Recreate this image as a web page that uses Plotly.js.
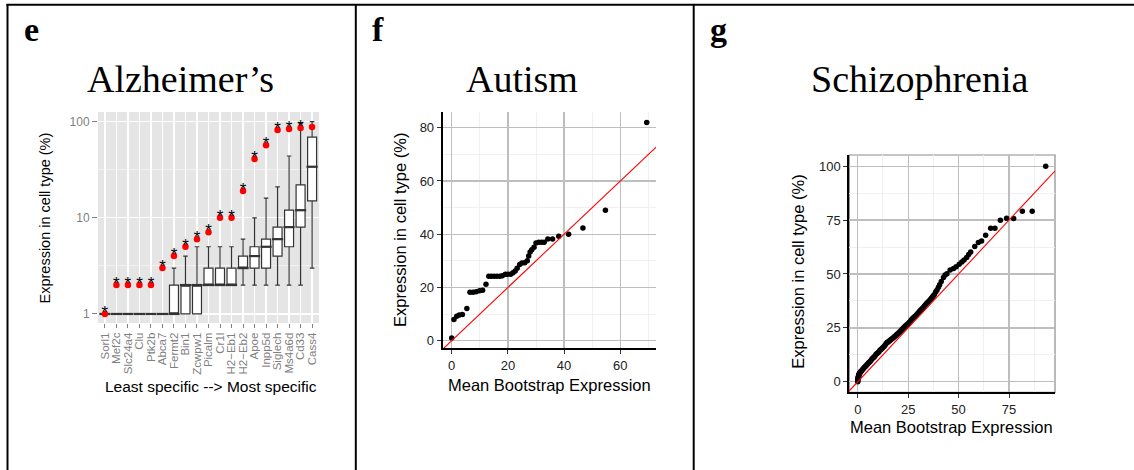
<!DOCTYPE html>
<html><head><meta charset="utf-8">
<script src="https://cdn.plot.ly/plotly-3.0.1.min.js"></script>
<style>html,body{margin:0;padding:0;background:#fff;} #chart{width:1134px;height:470px;}</style>
</head><body><div id="chart"></div>
<script>
// ---- Panel e: Alzheimer's ----
const genes = ['Sorl1','Mef2c','Slc24a4','Clu','Ptk2b','Abca7','Fermt2','Bin1','Zcwpw1','Picalm','Cr1l','H2\u2212Eb1','H2\u2212Eb2','Apoe','Inpp5d','Siglech','Ms4a6d','Cd33','Cass4'];
const observedPct = [1, 2, 2, 2, 2, 3, 4, 5, 6, 7.1, 10, 10, 19, 41, 57, 82, 84, 86, 88];
const signif = ['*','*','*','*','*','*','*','*','*','*','*','*','*','*','*','*','*','*',''];
const boxLower  = [1, 1, 1, 1, 1, 1, 1, 1, 1, 2, 2, 2, 2, 2, 2, 2, 2, 2, 3];
const boxQ1     = [1, 1, 1, 1, 1, 1, 1, 1, 1, 2, 2, 2, 3, 3, 3, 4, 5, 8, 15];
const boxMedian = [1, 1, 1, 1, 1, 1, 1, 2, 2, 2, 2, 2, 3, 4, 5, 6, 8, 12, 34];
const boxQ3     = [1, 1, 1, 1, 1, 1, 2, 2, 2, 3, 3, 3, 4, 5, 6, 8, 12, 22, 69];
const boxUpper  = [1, 1, 1, 1, 1, 1, 3, 4, 5, 5, 5, 5, 6, 10, 16, 21, 44, 96, 100];

// ---- Panel f: Autism ----
const autismBootstrap = [0, 0.8, 1.8, 2.7, 3.8, 5.4, 6.5, 7.6, 8.7, 9.9, 11.0, 12.2, 13.2, 14.1, 15.1, 16.1, 17.1, 18.0, 19.1, 20.0, 21.0, 21.8, 22.6, 23.3, 24.2, 25.0, 26.0, 26.9, 27.4, 27.9, 28.5, 29.3, 30.0, 31.0, 32.0, 32.9, 34.2, 35.9, 38.1, 41.6, 46.7, 54.7, 69.4];
const autismObserved  = [1, 8, 9.2, 9.7, 9.8, 12.1, 18.2, 18.2, 18.4, 18.8, 19, 21.2, 24.2, 24.2, 24.2, 24.2, 24.2, 24.4, 25, 25, 25, 25.5, 26.2, 27.2, 28.6, 29.2, 29.3, 30, 31.8, 33.3, 34.2, 35.1, 36.7, 37, 37, 37, 38.2, 38.2, 39.2, 40, 42.3, 49, 82];

// ---- Panel g: Schizophrenia ----
const sczBootstrap = [0, 0, 0, 0.1, 0.2, 0.3, 0.4, 0.5, 0.6, 0.7, 0.8, 1.0, 1.2, 1.4,
  1.6, 2.0, 2.4, 2.8, 3.2, 3.6, 4.0, 4.5, 5.0, 5.5, 6.0, 6.5, 7.0, 7.5, 8.0, 8.5, 9.0, 9.5, 10.0, 10.5, 11.0, 11.5, 12.0, 12.5, 13.0, 13.5, 14.0, 14.5, 15.0, 15.5, 16.0, 16.5, 17.0, 17.5, 18.0, 18.5, 19.0, 19.5, 20.0, 20.5, 21.0, 21.5, 22.0, 22.5, 23.0, 23.5, 24.0, 24.5, 25.0, 25.5, 26.0, 26.5, 27.0, 27.5, 28.0, 28.5, 29.0, 29.5, 30.0, 30.5, 31.0, 31.5, 32.0, 32.5, 33.0, 33.5, 34.0, 34.5, 35.0, 35.5, 36.0, 36.5, 37.0, 37.5, 38.0,
  38.6, 39.3, 40.0, 40.6, 41.4, 42.5, 43.3, 44.2, 45.8, 47.5, 48.8, 50.3, 51.6, 52.7, 54.0, 55.0, 56.0, 58.0, 59.8, 61.4, 63.4, 65.9, 68.0, 70.7, 73.8, 77.3, 81.6, 86.5, 93.2];
const sczObserved = [0, 0.5, 1, 1.5, 2.0, 2.3, 2.6, 3.0, 3.2, 3.5, 3.8, 4.0, 4.3, 4.6,
  4.8, 5.2, 5.7, 6.1, 6.6, 7.0, 7.3, 7.9, 8.4, 8.9, 9.3, 9.9, 10.5, 11.0, 11.4, 12.0, 12.6, 13.1, 13.4, 13.9, 14.6, 15.0, 15.4, 15.9, 16.4, 16.9, 17.6, 18.2, 18.4, 18.8, 19.2, 19.6, 20.0, 20.3, 20.7, 21.1, 21.6, 22.0, 22.4, 22.8, 23.3, 23.8, 24.3, 24.8, 25.3, 25.8, 26.2, 26.6, 27.0, 27.5, 28.0, 28.6, 29.1, 29.6, 30.0, 30.4, 30.9, 31.4, 31.9, 32.5, 33.0, 33.5, 34.0, 34.5, 35.0, 35.6, 36.2, 36.7, 37.1, 37.6, 38.1, 38.7, 39.3, 39.9, 40.5,
  41.6, 42.6, 43.8, 45.0, 46.5, 48.4, 49.5, 50.1, 51.9, 52.5, 53.4, 54.5, 55.6, 56.5, 57.7, 59.0, 60.2, 62.7, 64.6, 65.3, 68.0, 71.2, 71.2, 74.9, 75.8, 75.7, 79.1, 79.1, 100];

const identityLine = [-10, 200];

const W = 1134, H = 470;
const px = v => v / W;
const py = v => 1 - v / H;

const sans = 'Liberation Sans, Arial, sans-serif';
const serif = 'Liberation Serif, Times New Roman, serif';

const traces = [
  {type:'box', x: genes, q1: boxQ1, median: boxMedian, q3: boxQ3, lowerfence: boxLower, upperfence: boxUpper,
   xaxis:'x', yaxis:'y', width: 0.78, fillcolor:'#FFFFFF', line:{color:'#333333', width:1.2}, boxpoints:false, hoverinfo:'skip', showlegend:false},
  {type:'scatter', mode:'markers', x: genes, y: boxMedian, xaxis:'x', yaxis:'y',
   marker:{symbol:'line-ew', size:8, line:{color:'#333333', width:2.2}}, hoverinfo:'skip', showlegend:false},
  {type:'scatter', mode:'markers', x: genes, y: observedPct, xaxis:'x', yaxis:'y',
   marker:{color:'#FF0000', size:6.5}, cliponaxis:false, showlegend:false},
  {type:'scatter', mode:'text', x: genes, y: observedPct, text: signif, xaxis:'x', yaxis:'y',
   textposition:'middle center', textfont:{family:sans, size:17, color:'#000000'}, cliponaxis:false, showlegend:false},

  {type:'scatter', mode:'markers', x: autismBootstrap, y: autismObserved, xaxis:'x2', yaxis:'y2',
   marker:{color:'#000000', size:5.5}, showlegend:false},
  {type:'scatter', mode:'lines', x: identityLine, y: identityLine, xaxis:'x2', yaxis:'y2',
   line:{color:'#FF0000', width:1.1}, showlegend:false},

  {type:'scatter', mode:'markers', x: sczBootstrap, y: sczObserved, xaxis:'x3', yaxis:'y3',
   marker:{color:'#000000', size:5.5}, showlegend:false},
  {type:'scatter', mode:'lines', x: identityLine, y: identityLine, xaxis:'x3', yaxis:'y3',
   line:{color:'#FF0000', width:1.1}, showlegend:false}
];

const linAxis = (dom, anchor, range, dtick) => ({
  domain: dom, anchor: anchor, range: range, dtick: dtick, tick0: 0, tickmode:'linear',
  ticks:'outside', ticklen:4, tickcolor:'#333333', tickwidth:1,
  tickfont:{family:sans, size:13, color:'#222222'},
  showline:true, linecolor:'#000000', linewidth:2,
  showgrid:true, gridcolor:'#BEBEBE', gridwidth:1.3, zeroline:false,
  minor:{dtick: dtick/2, tick0:0, showgrid:true, gridcolor:'#F0F0F0', gridwidth:1, ticks:''}
});

const layout = {
  width: W, height: H,
  margin:{l:0, r:0, t:0, b:0},
  paper_bgcolor:'#FFFFFF', plot_bgcolor:'rgba(0,0,0,0)',
  showlegend:false,
  xaxis:{domain:[px(98), px(319)], anchor:'y', type:'category', categoryorder:'array', categoryarray: genes,
         range:[-0.6, 18.6], tickmode:'array', tickvals: genes, ticktext: genes,
         tickangle:-90, tickfont:{family:sans, size:11.5, color:'#7F7F7F'},
         ticks:'outside', ticklen:4, tickcolor:'#7F7F7F', showgrid:true, gridcolor:'#FFFFFF', gridwidth:1.2,
         showline:false, zeroline:false},
  yaxis:{domain:[py(323), py(112)], anchor:'x', type:'log', range:[-0.094, 2.101],
         tickmode:'array', tickvals:[1, 10, 100], ticktext:['1','10','100'],
         tickfont:{family:sans, size:12, color:'#7F7F7F'}, ticks:'outside', ticklen:5, tickcolor:'#7F7F7F',
         showgrid:true, gridcolor:'#FFFFFF', gridwidth:1.2, showline:false, zeroline:false,
         minor:{tickmode:'array', tickvals:[3.1623, 31.623], showgrid:true, gridcolor:'#F2F2F2', gridwidth:1, ticks:''}},
  xaxis2: linAxis([px(442.7), px(656)], 'y2', [-3.2, 72.7], 20),
  yaxis2: linAxis([py(348.3), py(112.3)], 'x2', [-2.85, 85.8], 20),
  xaxis3: linAxis([px(849.3), px(1055)], 'y3', [-4.2, 97.8], 25),
  yaxis3: linAxis([py(392.3), py(155)], 'x3', [-4.9, 105.2], 25),
  shapes:[
    {type:'rect', xref:'x domain', yref:'y domain', x0:0, x1:1, y0:0, y1:1, fillcolor:'#E5E5E5', line:{width:0}, layer:'below'},
    {type:'rect', xref:'x3 domain', yref:'y3 domain', x0:0, x1:1, y0:0, y1:1, fillcolor:'rgba(0,0,0,0)', line:{color:'#8C8C8C', width:1.2}, layer:'below'},
    {type:'line', xref:'paper', yref:'paper', x0:px(6.5), x1:1, y0:py(4.8), y1:py(4.8), line:{color:'#000000', width:2}},
    {type:'line', xref:'paper', yref:'paper', x0:px(7.5), x1:px(7.5), y0:py(4), y1:0, line:{color:'#000000', width:2}},
    {type:'line', xref:'paper', yref:'paper', x0:px(355.8), x1:px(355.8), y0:py(4), y1:0, line:{color:'#000000', width:2}},
    {type:'line', xref:'paper', yref:'paper', x0:px(693.7), x1:px(693.7), y0:py(4), y1:0, line:{color:'#000000', width:2}}
  ],
  annotations:[
    {text:'<b>e</b>', xref:'paper', yref:'paper', x:px(22), y:py(30), xanchor:'left', yanchor:'middle', showarrow:false, font:{family:serif, size:34, color:'#000'}},
    {text:'<b>f</b>', xref:'paper', yref:'paper', x:px(370), y:py(30), xanchor:'left', yanchor:'middle', showarrow:false, font:{family:serif, size:34, color:'#000'}},
    {text:'<b>g</b>', xref:'paper', yref:'paper', x:px(708), y:py(30), xanchor:'left', yanchor:'middle', showarrow:false, font:{family:serif, size:34, color:'#000'}},
    {text:'Alzheimer\u2019s', xref:'paper', yref:'paper', x:px(180), y:py(79), xanchor:'center', yanchor:'middle', showarrow:false, font:{family:serif, size:38, color:'#000'}},
    {text:'Autism', xref:'paper', yref:'paper', x:px(522), y:py(79), xanchor:'center', yanchor:'middle', showarrow:false, font:{family:serif, size:38, color:'#000'}},
    {text:'Schizophrenia', xref:'paper', yref:'paper', x:px(920), y:py(79), xanchor:'center', yanchor:'middle', showarrow:false, font:{family:serif, size:38, color:'#000'}},
    {text:'Expression in cell type (%)', xref:'paper', yref:'paper', x:px(44.5), y:py(218), xanchor:'center', yanchor:'middle', textangle:-90, showarrow:false, font:{family:sans, size:14.5, color:'#000'}},
    {text:'Least specific --> Most specific', xref:'paper', yref:'paper', x:px(211), y:py(386), xanchor:'center', yanchor:'middle', showarrow:false, font:{family:sans, size:15.5, color:'#000'}},
    {text:'Expression in cell type (%)', xref:'paper', yref:'paper', x:px(400), y:py(230), xanchor:'center', yanchor:'middle', textangle:-90, showarrow:false, font:{family:sans, size:16.5, color:'#000'}},
    {text:'Mean Bootstrap Expression', xref:'paper', yref:'paper', x:px(549.7), y:py(385), xanchor:'center', yanchor:'middle', showarrow:false, font:{family:sans, size:16.5, color:'#000'}},
    {text:'Expression in cell type (%)', xref:'paper', yref:'paper', x:px(798), y:py(271.7), xanchor:'center', yanchor:'middle', textangle:-90, showarrow:false, font:{family:sans, size:16.5, color:'#000'}},
    {text:'Mean Bootstrap Expression', xref:'paper', yref:'paper', x:px(951.7), y:py(426.7), xanchor:'center', yanchor:'middle', showarrow:false, font:{family:sans, size:16.5, color:'#000'}}
  ]
};

Plotly.newPlot('chart', traces, layout, {staticPlot:true, displayModeBar:false});
</script>
</body></html>
